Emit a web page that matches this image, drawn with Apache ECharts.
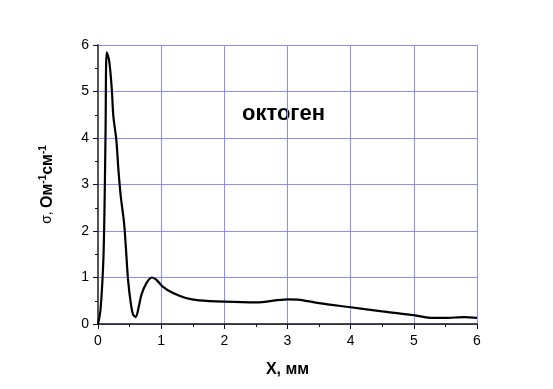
<!DOCTYPE html>
<html><head><meta charset="utf-8">
<script src="https://cdn.jsdelivr.net/npm/echarts@6/dist/echarts.min.js"></script>
<style>html,body{margin:0;padding:0;background:#fff}#c{width:553px;height:389px}</style>
</head><body><div id="c"></div>
<script>
const xs = [0, 0.04, 0.085, 0.106, 0.12, 0.138, 0.175, 0.217, 0.243, 0.29, 0.323, 0.36, 0.413, 0.44, 0.476, 0.519, 0.556, 0.598, 0.64, 0.688, 0.767, 0.852, 0.926, 1.02, 1.18, 1.39, 1.6, 2.0, 2.5, 3.0, 3.2, 3.5, 4.0, 4.5, 5.0, 5.3, 5.5, 5.8, 6.0];
const ys = [0, 0.31, 1.38, 2.75, 4.18, 5.84, 5.68, 5.08, 4.47, 3.96, 3.32, 2.75, 2.17, 1.67, 0.95, 0.45, 0.2, 0.15, 0.34, 0.63, 0.88, 1.0, 0.95, 0.81, 0.67, 0.56, 0.51, 0.48, 0.465, 0.53, 0.52, 0.45, 0.36, 0.27, 0.19, 0.13, 0.13, 0.15, 0.13];
const xTicks = [0, 1, 2, 3, 4, 5, 6];
const yTicks = [0, 1, 2, 3, 4, 5, 6];
const label = 'октоген';

const chart = echarts.init(document.getElementById('c'));
const gridColor = '#8c8cff';
chart.setOption({
  animation: false,
  grid: {left: 98, right: 76, top: 45, bottom: 65},
  xAxis: {
    type: 'value', min: xTicks[0], max: xTicks[xTicks.length-1], interval: 1,
    name: 'X, мм', nameLocation: 'middle', nameGap: 38,
    nameTextStyle: {fontFamily: 'Liberation Sans', fontSize: 16, fontWeight: 'bold', color: '#000'},
    axisLine: {lineStyle: {color: '#111', width: 1.5}},
    axisTick: {length: 5, lineStyle: {color: '#111'}},
    minorTick: {show: true, splitNumber: 2, length: 3, lineStyle: {color: '#111'}},
    axisLabel: {fontFamily: 'Liberation Sans', fontSize: 14, color: '#000', margin: 10},
    splitLine: {lineStyle: {color: gridColor, width: 1}}
  },
  yAxis: {
    type: 'value', min: yTicks[0], max: yTicks[yTicks.length-1], interval: 1,
    name: '{s|σ,} {b|Ом}{p|-1}{b|см}{p|-1}', nameLocation: 'middle', nameGap: 41, nameRotate: 90,
    nameTextStyle: {
      rich: {
        s: {fontFamily: 'Liberation Sans', fontSize: 14, color: '#000'},
        b: {fontFamily: 'Liberation Sans', fontSize: 16, fontWeight: 'bold', color: '#000'},
        p: {fontFamily: 'Liberation Sans', fontSize: 10, fontWeight: 'bold', color: '#000', verticalAlign: 'top', padding: [0, 0, 9, 0]}
      }
    },
    axisLine: {show: true, lineStyle: {color: '#555', width: 2}},
    axisTick: {show: true, length: 5, lineStyle: {color: '#111'}},
    minorTick: {show: true, splitNumber: 2, length: 3, lineStyle: {color: '#111'}},
    axisLabel: {fontFamily: 'Liberation Sans', fontSize: 14, color: '#000', margin: 9},
    splitLine: {lineStyle: {color: gridColor, width: 1}}
  },
  graphic: [{
    type: 'text', x: 242, y: 114,
    style: {text: label, font: 'bold 22px "Liberation Sans"', fill: '#000', align: 'left', verticalAlign: 'middle'}
  }],
  series: [{
    type: 'line', data: xs.map((x, i) => [x, ys[i]]), showSymbol: false, smooth: 0.3,
    lineStyle: {color: '#000', width: 2.2}
  }]
});
</script></body></html>
